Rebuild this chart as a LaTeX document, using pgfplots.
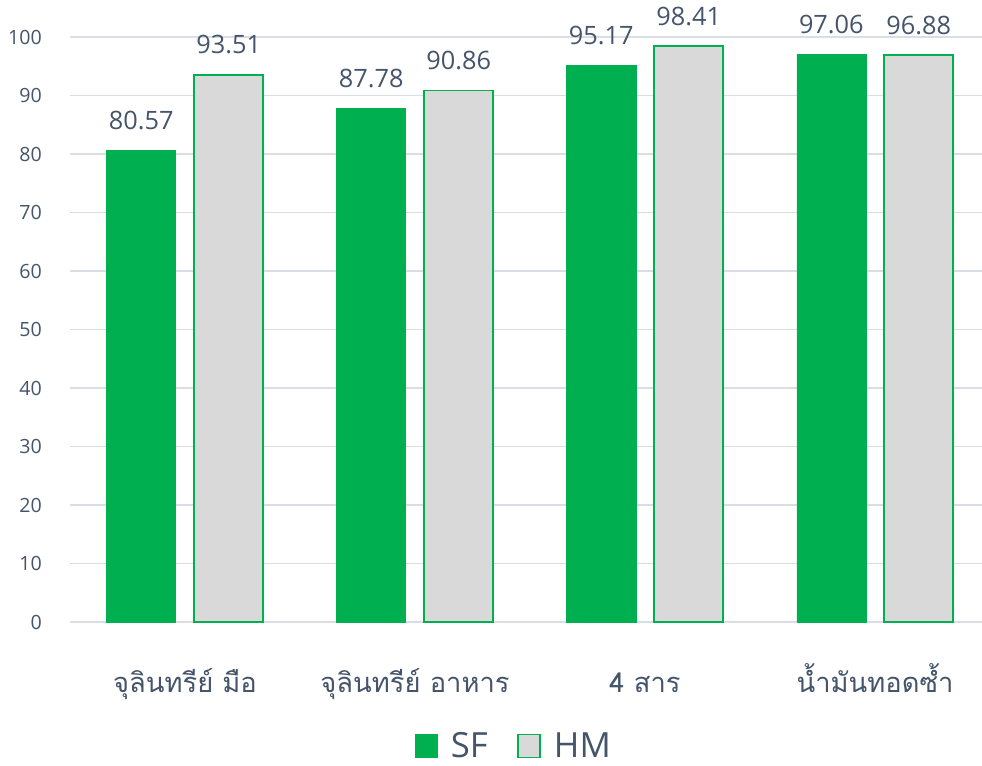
\documentclass[border=0pt]{standalone}
\usepackage{fontspec}
\usepackage{pgfplots}
\pgfplotsset{compat=1.18}
\setmainfont{Open Sans}
\newfontfamily\thaifont[Script=Thai]{Loma}
\definecolor{sfgreen}{RGB}{0,176,80}
\definecolor{hmgray}{RGB}{217,217,217}
\definecolor{txt}{RGB}{68,84,106}
\definecolor{gridc}{RGB}{217,222,228}
\begin{document}
\begin{tikzpicture}
\useasboundingbox (-52.5pt,-108pt) rectangle (684pt,466.5pt);
\begin{axis}[
  width=684pt, height=438.75pt, scale only axis,
  xmin=-0.5, xmax=3.465, ymin=0, ymax=100,
  clip=false,
  axis line style={draw=none},
  major tick style={draw=none},
  ytick={0,10,...,100},
  ymajorgrids, grid style={gridc, line width=1.1pt},
  xtick={0,1,2,3},
  xticklabels={จุลินทรีย์ มือ, จุลินทรีย์ อาหาร, 4 สาร, น้ำมันทอดซ้ำ},
  xticklabel style={font=\thaifont\fontsize{20.5}{24}\selectfont, text=txt, anchor=base, yshift=-48.75pt, inner sep=0pt},
  yticklabel style={font=\fontsize{14.7}{17}\selectfont, text=txt, anchor=east, inner sep=0pt, xshift=-21pt},
  /pgf/number format/assume math mode=true,
  ybar, bar width=0.3,
  nodes near coords,
  point meta=explicit symbolic,
  every node near coord/.append style={font=\fontsize{19}{22}\selectfont, text=txt, anchor=south, inner sep=0pt, yshift=15pt},
  legend style={at={(0.487,0)}, anchor=center, yshift=-93pt, draw=none, fill=none,
    font=\fontsize{26}{30}\selectfont, text=txt, legend columns=2,
    /tikz/every odd column/.append style={column sep=8pt},
    /tikz/every even column/.append style={column sep=20pt}},
  legend image code/.code={\draw[#1] (0pt,-8.5pt) rectangle (16.5pt,8.5pt);},
]
\addplot[bar shift=-0.19, fill=sfgreen, draw=sfgreen, line width=0.5pt]
  coordinates {(0,80.57)[80.57] (1,87.78)[87.78] (2,95.17)[95.17] (3,97.06)[97.06]};
\addlegendentry{SF}
\addplot[bar shift=0.19, fill=hmgray, draw=sfgreen, line width=1.2pt]
  coordinates {(0,93.51)[93.51] (1,90.86)[90.86] (2,98.41)[98.41] (3,96.88)[96.88]};
\addlegendentry{HM}
\end{axis}
\end{tikzpicture}
\end{document}
